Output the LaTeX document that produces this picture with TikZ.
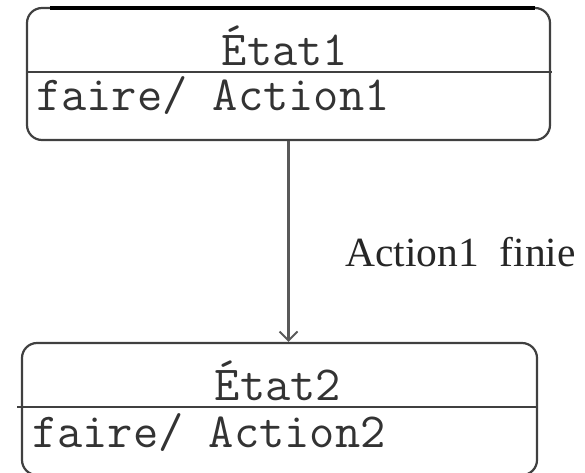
\documentclass[tikz,border=0pt]{standalone}
\usepackage{fontspec}
\newfontfamily\labelfont{Liberation Serif}
\usetikzlibrary{arrows.meta}
\tikzset{
  x=1pt, y=-1pt,
  statebox/.style={draw=black!75, line width=2.2pt, rounded corners=15pt, inner sep=0pt},
  divider/.style={draw=black!75, line width=2.2pt},
  monotext/.style={font=\ttfamily\fontsize{49}{56}\selectfont, text=black!80, inner sep=0pt},
  transition/.style={draw=black!65, line width=2.2pt, -{Straight Barb[length=9pt,width=18pt,line width=2pt]}},
  translabel/.style={font=\labelfont\fontsize{41.5}{48}\selectfont, text=black!85, inner sep=0pt},
}
\begin{document}
\begin{tikzpicture}
\useasboundingbox (0,0) rectangle (585,472);
% state 1
\node[statebox, minimum width=523pt, minimum height=132pt] (s1) at (288.5,74) {};
\draw[black, line width=3.5pt] (50,8) -- (535,8);
\coordinate (d1l) at (27,72);
\coordinate (d1r) at (552,72);
\draw[divider] (d1l) -- (d1r);
\node[monotext, anchor=base] (s1name) at (285,65) {État1};
\node[monotext, anchor=base west] (s1act) at (36,110) {faire/ Action1};
% state 2
\node[statebox, minimum width=515pt, minimum height=132pt] (s2) at (279.5,409) {};
\coordinate (d2l) at (17,407);
\coordinate (d2r) at (537,407);
\draw[divider] (d2l) -- (d2r);
\node[monotext, anchor=base] (s2name) at (278,400) {État2};
\node[monotext, anchor=base west] (s2act) at (32,447) {faire/ Action2};
% transition
\draw[transition] (s1.south) -- (s1.south |- s2.north);
\node[translabel, anchor=base west] (tlabel) at (345,266) {Action1\ \ finie};
\end{tikzpicture}
\end{document}
